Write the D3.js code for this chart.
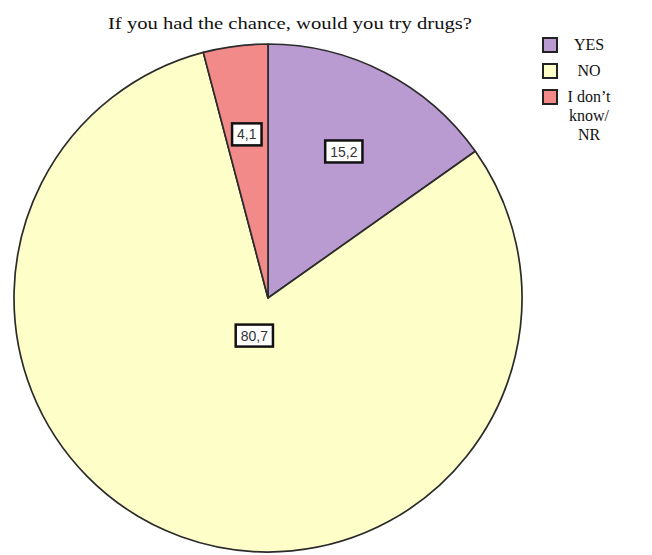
<!DOCTYPE html>
<html>
<head>
<meta charset="utf-8">
<script src="https://cdn.jsdelivr.net/npm/d3@7"></script>
<style>
  html, body { margin: 0; padding: 0; background: #ffffff; }
  svg { display: block; }
</style>
</head>
<body>
<svg id="chart" width="652" height="555"></svg>
<script>
// Survey answers and their shares (%)
const categories = ["YES", "NO", "I don't know/ NR"];
const legendLines = [["YES"], ["NO"], ["I don\u2019t", "know/", "NR"]];
const values = [15.2, 80.7, 4.1];
const valueLabels = ["15,2", "80,7", "4,1"];
const colors = ["#b99bd1", "#fefec8", "#f38a8a"];
const title = "If you had the chance, would you try drugs?";

const svg = d3.select("#chart");
const W = 652, H = 555;
const cx = 268, cy = 298, R = 254;

svg.append("rect").attr("width", W).attr("height", H).attr("fill", "#ffffff");

// Title
svg.append("text")
  .attr("x", 290).attr("y", 29)
  .attr("text-anchor", "middle")
  .attr("font-family", "'Liberation Serif', 'Times New Roman', serif")
  .attr("font-size", 17)
  .attr("textLength", 364)
  .attr("lengthAdjust", "spacingAndGlyphs")
  .attr("fill", "#111")
  .text(title);

// Pie, clockwise from 12 o'clock in data order
const pie = d3.pie().sort(null).value(d => d)(values);
const arc = d3.arc().innerRadius(0).outerRadius(R);

const g = svg.append("g").attr("transform", `translate(${cx},${cy})`);

g.selectAll("path.slice")
  .data(pie)
  .join("path")
  .attr("class", "slice")
  .attr("d", arc)
  .attr("fill", (d, i) => colors[i])
  .attr("stroke", "#2b2b2b")
  .attr("stroke-width", 1.7)
  .attr("stroke-linejoin", "round");

// Value labels in boxed tags
const labelArc = d => {
  const r = d.data > 50 ? 40 : 165;
  return d3.arc().innerRadius(r).outerRadius(r).centroid(d);
};

const lab = g.selectAll("g.lab")
  .data(pie)
  .join("g")
  .attr("class", "lab")
  .attr("transform", d => `translate(${labelArc(d)})`);

lab.each(function(d, i) {
  const sel = d3.select(this);
  const t = sel.append("text")
    .attr("text-anchor", "middle")
    .attr("dy", "0.36em")
    .attr("font-family", "'Liberation Sans', Arial, sans-serif")
    .attr("font-size", 14)
    .attr("fill", "#333")
    .text(valueLabels[i]);
  const w = t.node().getComputedTextLength();
  sel.insert("rect", "text")
    .attr("x", -w / 2 - 5).attr("y", -11)
    .attr("width", w + 10).attr("height", 22)
    .attr("fill", "#ffffff")
    .attr("stroke", "#111")
    .attr("stroke-width", 2.5);
});

// Legend
const leg = svg.append("g");
const rowY = [45, 71, 97];
categories.forEach((c, i) => {
  leg.append("rect")
    .attr("x", 543).attr("y", rowY[i] - 7)
    .attr("width", 14).attr("height", 14)
    .attr("fill", colors[i])
    .attr("stroke", "#222")
    .attr("stroke-width", 2);
  legendLines[i].forEach((line, j) => {
    leg.append("text")
      .attr("x", 589).attr("y", rowY[i] + 5 + j * 19)
      .attr("text-anchor", "middle")
      .attr("font-family", "'Liberation Serif', 'Times New Roman', serif")
      .attr("font-size", 16)
      .attr("fill", "#111")
      .text(line);
  });
});
</script>
</body>
</html>
